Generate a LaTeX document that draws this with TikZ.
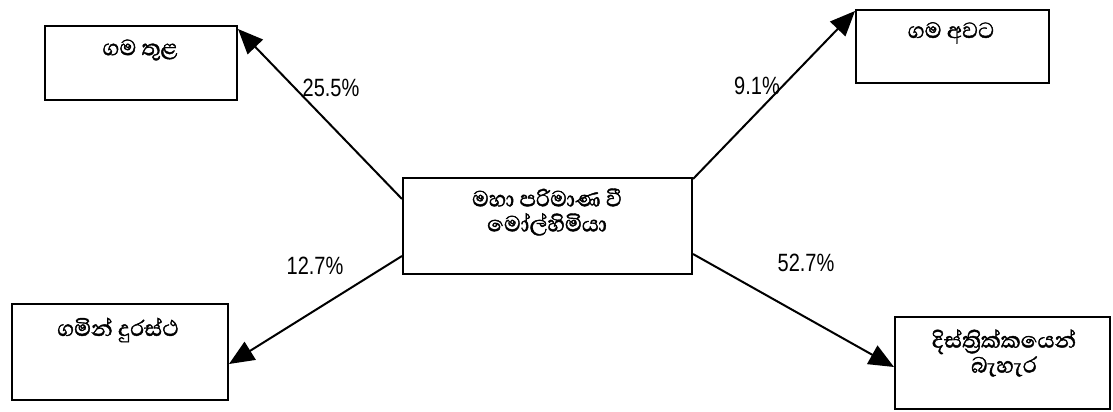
\documentclass[tikz,border=0pt]{standalone}
\usepackage{fontspec}
\usepackage{tikz}
\usetikzlibrary{arrows.meta}
\newfontfamily\sinhalafont[Script=Sinhala,FakeBold=1.5]{Abhaya Libre}
\newfontfamily\pctfont[FakeStretch=0.8]{Liberation Sans}

\begin{document}
\begin{tikzpicture}[x=0.5pt,y=-0.5pt,
		box/.style={draw,line width=1pt,inner sep=0pt},
		stext/.style={font=\sinhalafont\fontsize{14}{12.5}\selectfont,align=center,inner sep=0pt},
		pct/.style={font=\pctfont\fontsize{12.5}{13}\selectfont,inner sep=0pt},
		arr/.style={line width=1pt,-{Triangle[length=12.5pt,width=10.5pt]}}]
	
	\useasboundingbox (0,0) rectangle (1113,412);
	
	\node[box,minimum width=96pt,minimum height=37pt] (tula) at (141,63) {};
	\node[box,minimum width=96.5pt,minimum height=36.5pt] (awata) at (952.5,46.5) {};
	\node[box,minimum width=144.5pt,minimum height=48pt] (mola) at (547.5,226) {};
	\node[box,minimum width=108pt,minimum height=48pt] (durastha) at (120,352) {};
	\node[box,minimum width=107.5pt,minimum height=46pt] (bahara) at (1002.5,363) {};
	
	\node[stext] (tulatxt) at (140,50) {ගම තුළ};
	\node[stext] (awatatxt) at (951,33) {ගම අවට};
	\node[stext] (molatxt) at (547,212) {මහා පරිමාණ වී\\මෝල්හිමියා};
	\node[stext] (durasthatxt) at (118,330) {ගමින් දුරස්ථ};
	\node[stext] (baharatxt) at (1004,353) {දිස්ත්^^^^200dරික්කයෙන්\\බැහැර};
	
	\draw[arr] ([yshift=-11pt]mola.north west) -- ([yshift=-2pt]tula.north east);
	\draw[arr] ([yshift=-1pt]mola.north east) -- ([yshift=-1pt]awata.north west);
	\draw[arr] ([yshift=9.5pt]mola.south west) -- ([yshift=18.5pt]durastha.south east);
	\draw[arr] ([yshift=10.5pt]mola.south east) -- ([yshift=21.5pt]bahara.south west);
	
	\node[pct] (p1) at (331,88) {25.5\%};
	\node[pct] (p2) at (757,86) {9.1\%};
	\node[pct] (p3) at (315,266) {12.7\%};
	\node[pct] (p4) at (806,263) {52.7\%};
	
\end{tikzpicture}
\end{document}
